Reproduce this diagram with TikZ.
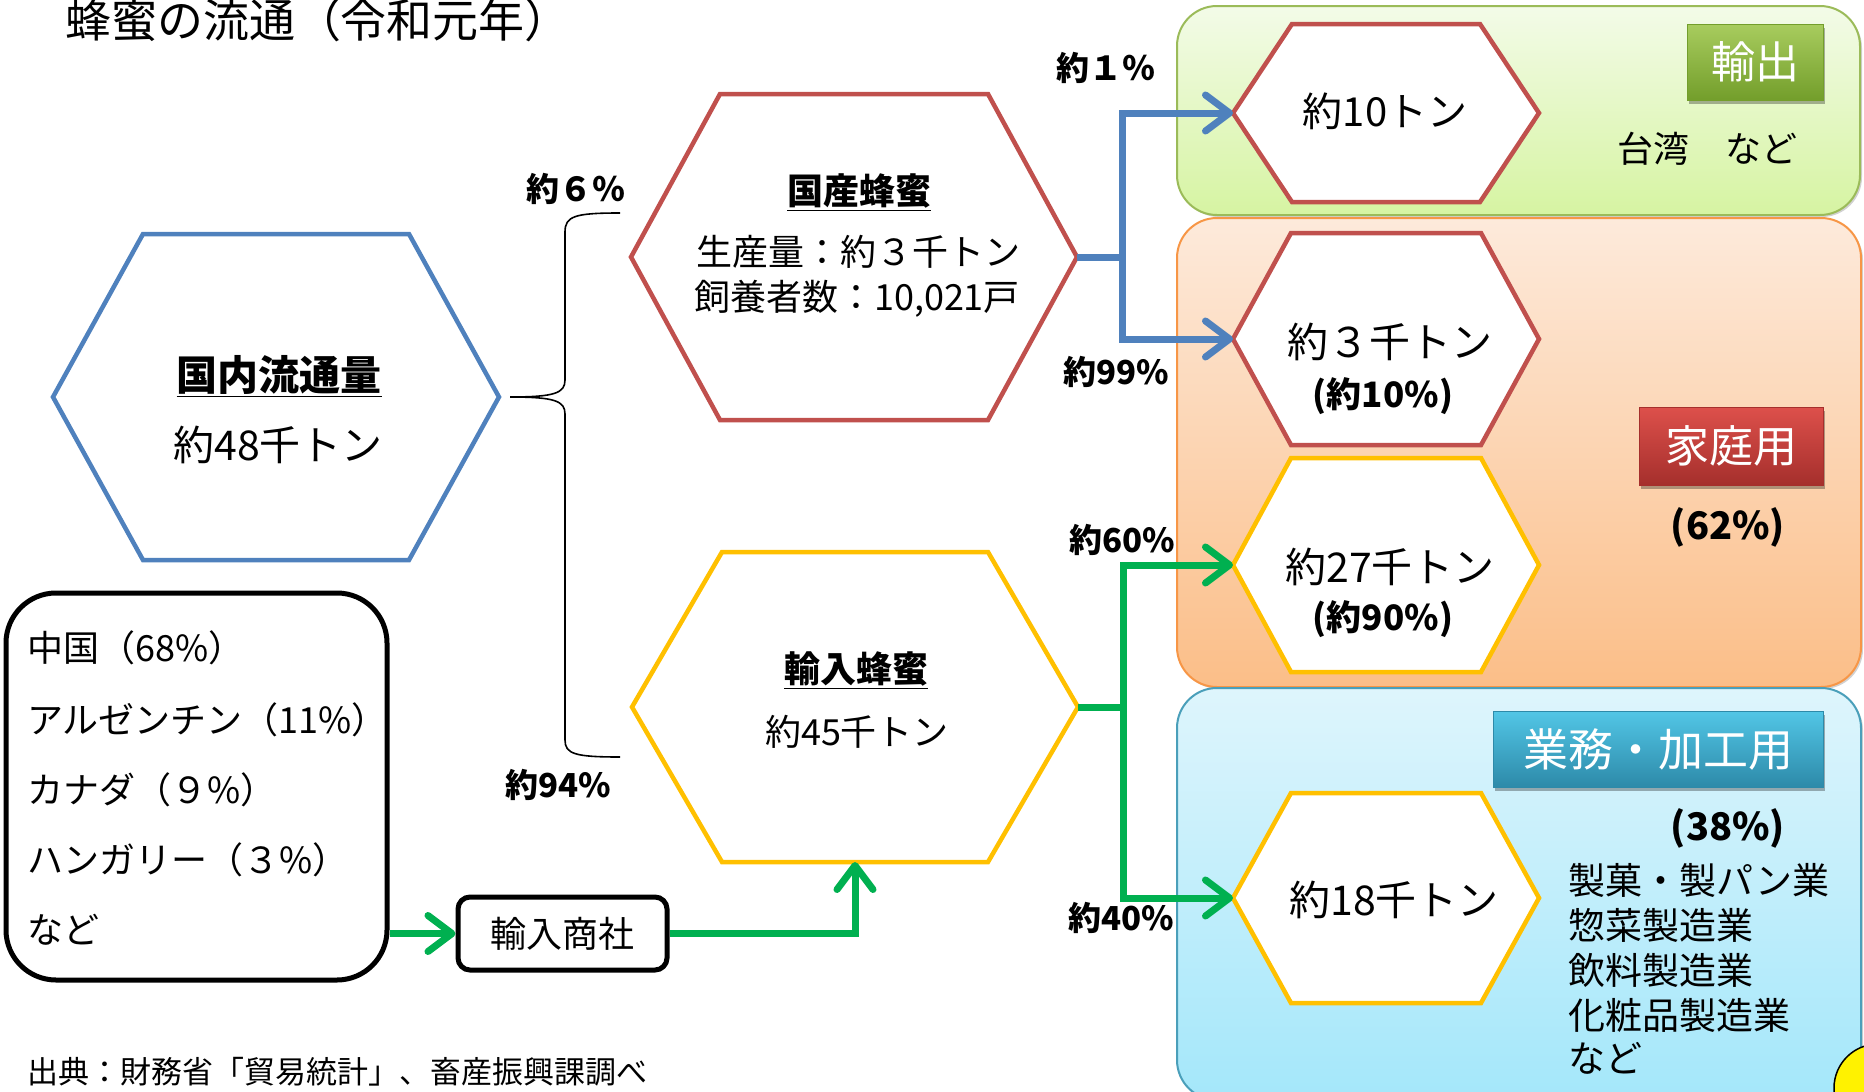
\documentclass[tikz,border=0pt]{standalone}
\usepackage{fontspec}
\setmainfont{Noto Sans CJK JP}
\usetikzlibrary{arrows.meta,shadows,shadings}
\definecolor{hexblue}{HTML}{4F81BD}
\definecolor{hexred}{HTML}{C0504D}
\definecolor{hexyel}{HTML}{FFC000}
\definecolor{flowgreen}{HTML}{00B050}
\definecolor{expTop}{HTML}{F3FBE8}
\definecolor{expBot}{HTML}{D6F4A2}
\definecolor{expLine}{HTML}{9BBB59}
\definecolor{homTop}{HTML}{FDEADB}
\definecolor{homBot}{HTML}{FBBE88}
\definecolor{homLine}{HTML}{F79646}
\definecolor{bizTop}{HTML}{DEF5FC}
\definecolor{bizBot}{HTML}{A4E7FA}
\definecolor{bizLine}{HTML}{4A9FBA}
\definecolor{lgTop}{HTML}{A8CC5E}
\definecolor{lgBot}{HTML}{739E2B}
\definecolor{lrTop}{HTML}{DD504B}
\definecolor{lrBot}{HTML}{A52F2C}
\definecolor{lbTop}{HTML}{52C6E6}
\definecolor{lbBot}{HTML}{2D8AA9}
\newcommand\drawhex[7]{%
  \draw[#7] ({#2-#4},#3) -- ({#2-#4+#6},{#3-#5}) -- ({#2+#4-#6},{#3-#5}) -- ({#2+#4},#3)
     -- ({#2+#4-#6},{#3+#5}) -- ({#2-#4+#6},{#3+#5}) -- cycle;
  \coordinate (#1W) at ({#2-#4},#3);
  \coordinate (#1E) at ({#2+#4},#3);
  \coordinate (#1S) at (#2,{#3+#5});
  \coordinate (#1N) at (#2,{#3-#5});
}
\begin{document}
\begin{tikzpicture}[x=1pt,y=-1pt,
  T/.style={inner sep=0pt, font=\fontsize{#1}{#1}\selectfont, anchor=base, yshift={-0.38*#1pt}},
  TB/.style={T=#1, font=\fontsize{#1}{#1}\selectfont\bfseries},
  TL/.style={T=#1, anchor=base west},
  hexB/.style={draw=hexblue, line width=4.5pt, fill=white},
  hexR/.style={draw=hexred, line width=4.5pt, fill=white},
  hexY/.style={draw=hexyel, line width=4.5pt, fill=white},
  bgbox/.style={rounded corners=40pt, line width=2pt, inner sep=0pt,
     drop shadow={shadow xshift=2pt, shadow yshift=-2pt, opacity=0.18, fill=black}},
  lbl/.style={inner sep=0pt, text=white, font=\fontsize{#1}{#1}\selectfont,
     drop shadow={shadow xshift=2pt, shadow yshift=-4pt, opacity=0.3, fill=black}},
  flow/.style={line width=7pt, -{Straight Barb[length=24pt,width=36pt,round]}},
  blueflow/.style={flow, draw=hexblue},
  greenflow/.style={flow, draw=flowgreen},
  blkbox/.style={draw=black, line width=5pt, fill=white, inner sep=0pt},
]
\useasboundingbox (0,0) rectangle (1864,1092);
\clip (0,0) rectangle (1864,1092);

% background category boxes
\node[bgbox, draw=expLine, top color=expTop, bottom color=expBot,
      minimum width=683pt, minimum height=209pt] (expbox) at (1518.5,110.5) {};
\node[bgbox, draw=homLine, top color=homTop, bottom color=homBot,
      minimum width=684pt, minimum height=469pt] (hombox) at (1519,452.5) {};
\node[bgbox, draw=bizLine, top color=bizTop, bottom color=bizBot,
      minimum width=684pt, minimum height=412pt] (bizbox) at (1519,894) {};

% category labels
\node[lbl=44, draw=lgBot, line width=0.8pt, top color=lgTop, bottom color=lgBot,
      minimum width=136pt, minimum height=76pt] (lexp) at (1755,62) {輸出};
\node[lbl=44, draw=lrBot, line width=0.8pt, top color=lrTop, bottom color=lrBot,
      minimum width=184pt, minimum height=78pt] (lhom) at (1731,446) {家庭用};
\node[lbl=45, draw=lbBot, line width=0.8pt, top color=lbTop, bottom color=lbBot,
      minimum width=330pt, minimum height=76pt] (lbiz) at (1658,749) {業務・加工用};

% yellow badge (partly outside)
\node[circle, fill=yellow, draw=black, line width=1.5pt, minimum size=88pt, inner sep=0pt] (badge) at (1878,1088) {};

% hexagons
\drawhex{dom}{276}{397}{223}{163}{90}{hexB}
\drawhex{kok}{854}{257}{223}{163}{89}{hexR}
\drawhex{yun}{855}{707}{223}{155}{90}{hexY}
\drawhex{ex}{1386}{113}{153}{89}{59}{hexR}
\drawhex{ha}{1386}{339}{153}{106}{58}{hexR}
\drawhex{hb}{1386}{565}{153}{107}{58}{hexY}
\drawhex{bz}{1386}{898}{153}{105}{58}{hexY}

% country and trading company boxes
\node[blkbox, rounded corners=50pt, minimum width=381pt, minimum height=387pt] (countries) at (196.5,786.5) {};
\node[blkbox, rounded corners=12pt, minimum width=209pt, minimum height=73pt,
      font=\fontsize{36}{36}\selectfont] (shosha) at (562.5,933.5) {輸入商社};

% brace
\coordinate (bracetip) at (510,397);
\draw[line width=1.6pt] (620,213) .. controls (575,213) and (565,216) .. (565,232) -- (565,380)
   .. controls (565,393) and (555,397) .. (bracetip)
   .. controls (555,397) and (565,401) .. (565,414) -- (565,740)
   .. controls (565,754) and (575,757) .. (620,757);

% flows
\draw[blueflow] (kokE) -- ++(45,0) |- (exW);
\draw[blueflow] (kokE) -- ++(45,0) |- (haW);
\draw[greenflow] (yunE) -- ++(45,0) |- (hbW);
\draw[greenflow] (yunE) -- ++(45,0) |- (bzW);
\draw[greenflow] (countries.east |- shosha.west) -- (shosha.west);
\draw[greenflow] (shosha.east) -| (yunS);

% title
\node[T=46] (title) at (318,20) {蜂蜜の流通（令和元年）};

% hexagon texts
\node[TB=41] (domT) at (279,375) {\underline{国内流通量}};
\node[T=41] (domV) at (278,445) {約48千トン};
\node[TB=36] (kokT) at (859,191) {\underline{国産蜂蜜}};
\node[T=36] (kokA) at (858,252) {生産量：約３千トン};
\node[T=36] (kokB) at (857,297) {飼養者数：10,021戸};
\node[TB=36] (yunT) at (856,669) {\underline{輸入蜂蜜}};
\node[T=36] (yunV) at (857,732) {約45千トン};
\node[T=40] (exV) at (1385,111) {約10トン};
\node[T=41] (haV) at (1390,342) {約３千トン};
\node[TB=35] (haP) at (1383,394) {(約10\%)};
\node[T=41] (hbV) at (1390,567) {約27千トン};
\node[TB=35] (hbP) at (1383,617) {(約90\%)};
\node[T=41] (bzV) at (1394,900) {約18千トン};

% category texts
\node[T=36] (taiwan) at (1707,149) {台湾　など};
\node[TB=38] (homP) at (1728,525) {(62\%)};
\node[TB=38] (bizP) at (1728,826) {(38\%)};
\node[TL=37] (use1) at (1568,880) {製菓・製パン業};
\node[TL=37] (use2) at (1568,925) {惣菜製造業};
\node[TL=37] (use3) at (1568,970) {飲料製造業};
\node[TL=37] (use4) at (1568,1015) {化粧品製造業};
\node[TL=37] (use5) at (1568,1058) {など};

% countries
\node[TL=36] (c1) at (27,648) {中国（68\%）};
\node[TL=36] (c2) at (27,720) {アルゼンチン（11\%）};
\node[TL=36] (c3) at (27,790) {カナダ（９\%）};
\node[TL=36] (c4) at (27,860) {ハンガリー（３\%）};
\node[TL=36] (c5) at (27,930) {など};

% percentage labels
\node[TB=33] (p6) at (576,189) {約６％};
\node[TB=33] (p94) at (558,785) {約94\%};
\node[TB=33] (p1) at (1106,68) {約１％};
\node[TB=33] (p99) at (1116,372) {約99\%};
\node[TB=33] (p60) at (1122,540) {約60\%};
\node[TB=33] (p40) at (1121,918) {約40\%};

% source
\node[TL=31] (src) at (27,1072) {出典：財務省「貿易統計」、畜産振興課調べ};
\end{tikzpicture}
\end{document}
